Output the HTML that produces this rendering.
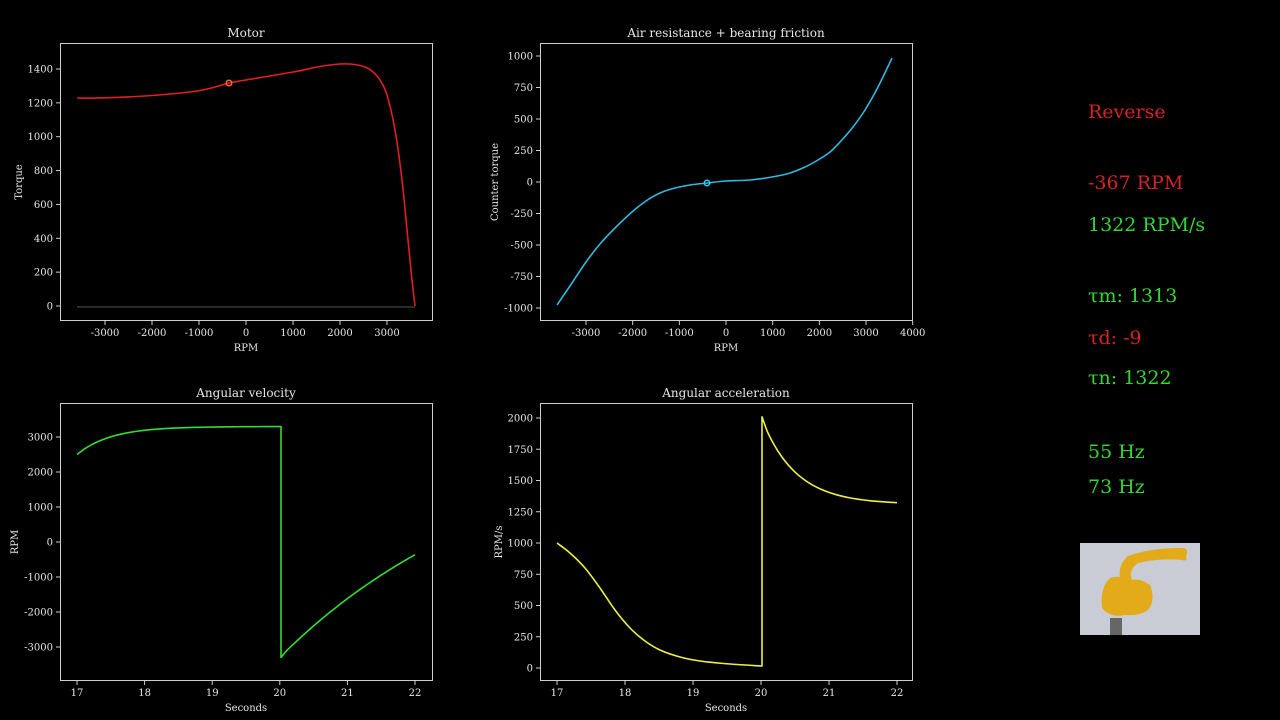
<!DOCTYPE html>
<html><head><meta charset="utf-8"><style>
html,body{margin:0;padding:0;background:#000;width:1280px;height:720px;overflow:hidden}
svg{display:block}
text{font-family:"DejaVu Serif","Liberation Serif",serif;fill:#e6e6e6}
.t{font-size:10px}
.ti{font-size:12px}
.r{font-family:"DejaVu Serif","Liberation Serif",serif;font-size:19px}
</style></head><body>
<svg id="s" width="1280" height="720" xmlns="http://www.w3.org/2000/svg">
<g fill="none" stroke="#cfcfcf" stroke-width="1">
<rect x="60.5" y="43.5" width="372" height="277"/>
<rect x="540.5" y="43.5" width="372" height="277"/>
<rect x="60.5" y="403.5" width="372" height="277"/>
<rect x="540.5" y="403.5" width="372" height="277"/>
</g>
<text class="ti" x="246" y="37" text-anchor="middle">Motor</text>
<text class="ti" x="726" y="37" text-anchor="middle">Air resistance + bearing friction</text>
<text class="ti" x="246" y="397" text-anchor="middle">Angular velocity</text>
<text class="ti" x="726" y="397" text-anchor="middle">Angular acceleration</text>
<text class="t" x="246" y="351" text-anchor="middle">RPM</text>
<text class="t" x="726" y="351" text-anchor="middle">RPM</text>
<text class="t" x="246" y="711" text-anchor="middle">Seconds</text>
<text class="t" x="726" y="711" text-anchor="middle">Seconds</text>
<text class="t" transform="translate(22,182) rotate(-90)" text-anchor="middle">Torque</text>
<text class="t" transform="translate(498,182) rotate(-90)" text-anchor="middle">Counter torque</text>
<text class="t" transform="translate(18,542) rotate(-90)" text-anchor="middle">RPM</text>
<text class="t" transform="translate(502,542) rotate(-90)" text-anchor="middle">RPM/s</text>
<g id="ticks"></g>
<line x1="77" y1="307" x2="415" y2="307" stroke="#555" stroke-width="1"/>
<g id="curves"></g>
<circle cx="229" cy="83" r="2.8" fill="none" stroke="#ff6a3a" stroke-width="1.4"/>
<circle cx="707" cy="183" r="2.8" fill="none" stroke="#2fd0f0" stroke-width="1.4"/>
<text class="r" x="1088" y="118" style="fill:#d42424">Reverse</text>
<text class="r" x="1088" y="189" style="fill:#d42424">-367 RPM</text>
<text class="r" x="1088" y="231" style="fill:#33d633">1322 RPM/s</text>
<text class="r" x="1088" y="302" style="fill:#33d633">τm: 1313</text>
<text class="r" x="1088" y="344" style="fill:#d42424">τd: -9</text>
<text class="r" x="1088" y="384" style="fill:#33d633">τn: 1322</text>
<text class="r" x="1088" y="458" style="fill:#33d633">55 Hz</text>
<text class="r" x="1088" y="493" style="fill:#33d633">73 Hz</text>
<rect x="1080" y="543" width="120" height="92" fill="#c9ccd4"/>
<path d="M1108,580 Q1100,590 1102,608 Q1110,618 1125,615 Q1140,616 1148,610 Q1156,600 1150,585 Q1140,578 1132,580 Q1128,570 1138,563 Q1160,558 1182,560 Q1188,562 1186,556 Q1190,547 1180,548 Q1150,548 1128,556 Q1118,565 1120,577 Q1112,576 1108,580 Z" fill="#e3aa1a"/>
<rect x="1110" y="618" width="12" height="17" fill="#666"/>
</svg>
<script>
var ns='http://www.w3.org/2000/svg';
var g=document.getElementById('ticks');
function tk(x1,y1,x2,y2){var l=document.createElementNS(ns,'line');l.setAttribute('x1',x1);l.setAttribute('y1',y1);l.setAttribute('x2',x2);l.setAttribute('y2',y2);l.setAttribute('stroke','#cfcfcf');g.appendChild(l);}
function tx(x,y,s,a){var t=document.createElementNS(ns,'text');t.setAttribute('x',x);t.setAttribute('y',y);t.setAttribute('class','t');t.setAttribute('text-anchor',a);t.textContent=s;g.appendChild(t);}
function xt(vals,x0,dx,yb){vals.forEach(function(v,i){var x=x0+dx*i;tk(x,yb,x,yb+4);tx(x,yb+15,v,'middle');});}
function yt(vals,y0,dy,xl){vals.forEach(function(v,i){var y=y0+dy*i;tk(xl-4,y,xl,y);tx(xl-7,y+3.5,v,'end');});}
xt(['-3000','-2000','-1000','0','1000','2000','3000'],105,47,321);
yt(['0','200','400','600','800','1000','1200','1400'],306,-33.857,60);
xt(['-3000','-2000','-1000','0','1000','2000','3000','4000'],586,46.67,321);
yt(['1000','750','500','250','0','-250','-500','-750','-1000'],56,31.5,540);
xt(['17','18','19','20','21','22'],77,67.6,681);
yt(['3000','2000','1000','0','-1000','-2000','-3000'],437,35,60);
xt(['17','18','19','20','21','22'],557,68,681);
yt(['2000','1750','1500','1250','1000','750','500','250','0'],418,31.25,540);
var c=document.getElementById('curves');
function sm(p){var d='M'+p[0][0]+','+p[0][1];for(var i=0;i<p.length-1;i++){var p0=p[i-1]||p[i],p1=p[i],p2=p[i+1],p3=p[i+2]||p2;d+=' C'+(p1[0]+(p2[0]-p0[0])/6)+','+(p1[1]+(p2[1]-p0[1])/6)+' '+(p2[0]-(p3[0]-p1[0])/6)+','+(p2[1]-(p3[1]-p1[1])/6)+' '+p2[0]+','+p2[1];}return d;}
function draw(segs,col){var d='';segs.forEach(function(s,i){var q=sm(s);d+=(i?q.replace('M','L'):q)+' ';});var e=document.createElementNS(ns,'path');e.setAttribute('d',d);e.setAttribute('fill','none');e.setAttribute('stroke',col);e.setAttribute('stroke-width','1.6');e.setAttribute('stroke-linejoin','round');c.appendChild(e);}
draw([[[77,98],[105,97.8],[152,95.5],[200,90.5],[229,83],[246,80],[293,72],[320,66.5],[340,64],[355,64.5],[365,67],[372,71],[380,80],[387,95],[395,130],[402,180],[408,240],[412,280],[415,306]]],'#e02020');
draw([[[557,305],[572,283],[586,262],[600,244],[615,228],[632,212],[646,201],[660,193],[675,188],[690,185],[707,183],[726,181],[750,180],[772,177],[790,173],[805,167],[818,160],[830,152],[840,142],[853,127],[865,110],[878,87],[892,58]]],'#2fb8e0');
var v1=[],v2=[],a2=[];
for(var t=17;t<=20.001;t+=0.1){v1.push([77+67.6*(t-17),542-0.035*(3300-800*Math.exp(-(t-17)/0.5))]);}
v1.push([281,426.5]);
for(var t=20;t<=22.001;t+=0.1){v2.push([(t==20?281:77+67.6*(t-17)),542-0.035*(3300-6600*Math.exp(-(t-20)/3.4))]);}
draw([v1,v2],'#33dd33');
for(var t=20;t<=22.001;t+=0.1){a2.push([(t==20?762:557+68*(t-17)),668-0.125*(1310+700*Math.exp(-(t-20)/0.5))]);}
draw([[[557,543],[570,553],[585,568],[600,588],[615,610],[630,628],[645,641],[660,650],[680,657],[700,661],[730,664],[762,666]],a2],'#eeee44');
</script>
</body></html>
